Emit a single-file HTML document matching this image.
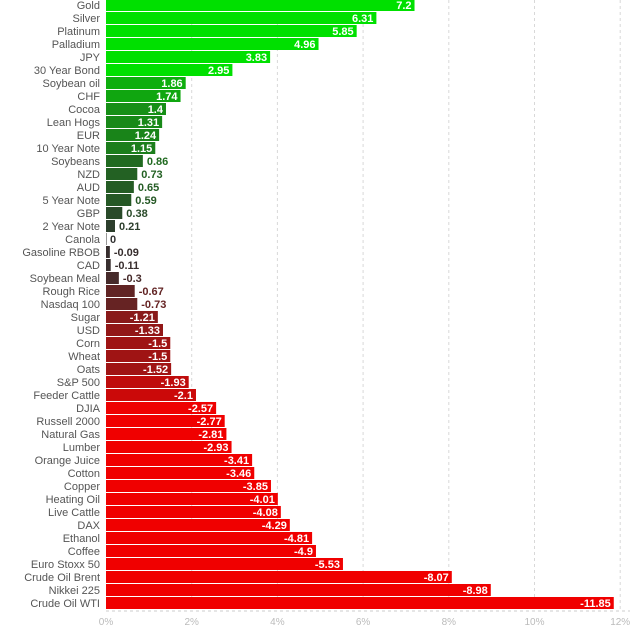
<!DOCTYPE html>
<html><head><meta charset="utf-8"><style>
body{margin:0;background:#fff;width:638px;height:634px;overflow:hidden;font-family:"Liberation Sans",sans-serif}
svg text{font-family:"Liberation Sans",sans-serif}
</style></head><body>
<svg id="c" width="638" height="634"></svg>
<script>
const categories=["Gold","Silver","Platinum","Palladium","JPY","30 Year Bond","Soybean oil","CHF","Cocoa","Lean Hogs","EUR","10 Year Note","Soybeans","NZD","AUD","5 Year Note","GBP","2 Year Note","Canola","Gasoline RBOB","CAD","Soybean Meal","Rough Rice","Nasdaq 100","Sugar","USD","Corn","Wheat","Oats","S&P 500","Feeder Cattle","DJIA","Russell 2000","Natural Gas","Lumber","Orange Juice","Cotton","Copper","Heating Oil","Live Cattle","DAX","Ethanol","Coffee","Euro Stoxx 50","Crude Oil Brent","Nikkei 225","Crude Oil WTI"];
const values=[7.2,6.31,5.85,4.96,3.83,2.95,1.86,1.74,1.4,1.31,1.24,1.15,0.86,0.73,0.65,0.59,0.38,0.21,0,-0.09,-0.11,-0.3,-0.67,-0.73,-1.21,-1.33,-1.5,-1.5,-1.52,-1.93,-2.1,-2.57,-2.77,-2.81,-2.93,-3.41,-3.46,-3.85,-4.01,-4.08,-4.29,-4.81,-4.9,-5.53,-8.07,-8.98,-11.85];
const tickLabels=["0%","2%","4%","6%","8%","10%","12%"];
const tickValues=[0,2,4,6,8,10,12];
const NS="http://www.w3.org/2000/svg";
const svg=document.getElementById('c');
const x0=106,pxPer=42.85;
const xs=v=>x0+v*pxPer;
const ys=i=>i*13-1;
function mk(t,a,p){const e=document.createElementNS(NS,t);for(const k in a)e.setAttribute(k,a[k]);(p||svg).appendChild(e);return e;}
function col(v){const t=Math.min(Math.abs(v)/2.6,1);const b=[48,48,48];const tgt=v>=0?[0,224,0]:[240,0,0];return`rgb(${tgt.map((c,i)=>Math.round(b[i]+(c-b[i])*t)).join(',')})`;}
tickValues.forEach((tv,i)=>{
 if(i>0){const g=mk('line',{x1:xs(tv),x2:xs(tv),y1:0,y2:611,stroke:'#d8d8d8','stroke-dasharray':'3,3'});
 }
 const t=mk('text',{x:xs(tv),y:625,'text-anchor':'middle','font-size':'10',fill:'#bbb'});t.textContent=tickLabels[i];
 
});
const ax=mk('line',{x1:x0,x2:630,y1:611,y2:611,stroke:'#ccc','stroke-dasharray':'3,3'});

categories.forEach((c,i)=>{
 const v=values[i],y=ys(i),w=Math.abs(v)*pxPer,cl=col(v);
 const l=mk('text',{x:100,y:y+10,'text-anchor':'end','font-size':'11',fill:'#555'});l.textContent=c;
 
 const r=mk('rect',{x:x0,y:y,width:Math.max(w,0.5),height:12,fill:cl});
 
 const inside=w>42;
 const t=mk('text',{x:inside?x0+w-3:x0+w+4,y:y+10,'text-anchor':inside?'end':'start','font-size':'11','font-weight':'bold',fill:inside?'#fff':cl});
 t.textContent=String(v);
 
});
</script>
</body></html>
